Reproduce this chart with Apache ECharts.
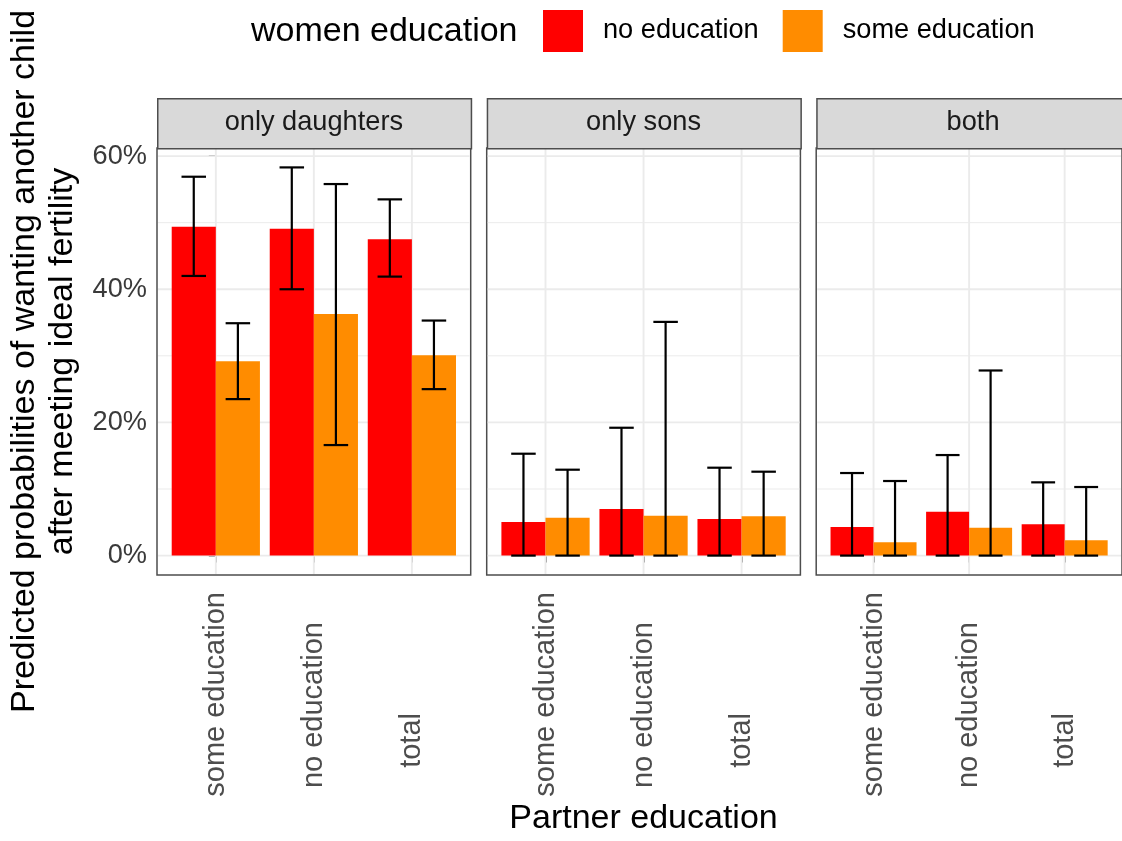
<!DOCTYPE html>
<html>
<head>
<meta charset="utf-8">
<script src="https://cdn.jsdelivr.net/npm/echarts@6/dist/echarts.min.js"></script>
<style>
  html, body { margin: 0; padding: 0; background: #ffffff; }
  #chart { width: 1122px; height: 841px; }
</style>
</head>
<body>
<div id="chart"></div>
<script>
// Partner education categories on each panel's x axis
const partnerEducation = ['some education', 'no education', 'total'];
// Facets: sex composition of existing children
const facets = ['only daughters', 'only sons', 'both'];
// Women education groups (legend)
const womenEducation = ['no education', 'some education'];

// Predicted probabilities (%) — one row per facet, one value per partner education category
const noEduMean  = [[49.4, 49.1, 47.5], [5.05, 7.0, 5.5], [4.3, 6.6, 4.7]];
const noEduLow   = [[42.0, 40.0, 41.9], [0, 0, 0], [0, 0, 0]];
const noEduHigh  = [[56.9, 58.3, 53.5], [15.3, 19.2, 13.2], [12.4, 15.1, 11.0]];
const someEduMean = [[29.2, 36.3, 30.1], [5.7, 6.0, 5.9], [2.0, 4.2, 2.3]];
const someEduLow  = [[23.5, 16.6, 25.0], [0, 0, 0], [0, 0, 0]];
const someEduHigh = [[34.9, 55.8, 35.3], [12.9, 35.1, 12.6], [11.2, 27.8, 10.3]];

// Axis breaks
const yTicks = [0, 20, 40, 60];
const yMinorTicks = [10, 30, 50];
const xTicks = [0, 1, 2];

const FONT = '"Liberation Sans", Arial, Helvetica, sans-serif';
const colors = { 'no education': '#ff0000', 'some education': '#ff8c00' };
const BORDER = '#4d4d4d';

// Panel layout
const panelLeft = [157, 486.7, 816.2];
const panelWidth = 313.7;
const panelTop = 148;
const panelBottom = 575;
const stripTop = 98;

// Continuous scale with 5% expansion on both sides of the data range
const allHigh = [].concat(...noEduHigh, ...someEduHigh);
const dataMax = Math.max(...allHigh);
const yMin = -0.05 * dataMax;
const yMax = dataMax * 1.05;
// Discrete scale with 0.6 expansion on both sides
const xMin = -0.6, xMax = partnerEducation.length - 1 + 0.6;

const dodge = 0.225;   // half of the 0.9 dodge width
const barHalf = 0.225; // bars 0.45 wide
const capHalf = 0.125; // error bar width 0.25

function barItem(offset) {
  return function (params, api) {
    const x = api.value(0), v = api.value(1);
    const p0 = api.coord([x + offset - barHalf, v]);
    const p1 = api.coord([x + offset + barHalf, 0]);
    return {
      type: 'rect',
      shape: { x: p0[0], y: p0[1], width: p1[0] - p0[0], height: p1[1] - p0[1] },
      style: { fill: api.visual('color') }
    };
  };
}

function errorItem(offset) {
  return function (params, api) {
    const x = api.value(0) + offset;
    const lo = api.coord([x, api.value(1)]);
    const hi = api.coord([x, api.value(2)]);
    const capL = api.coord([x - capHalf, 0])[0];
    const capR = api.coord([x + capHalf, 0])[0];
    const st = { stroke: '#000000', lineWidth: 2.2 };
    return {
      type: 'group',
      children: [
        { type: 'line', shape: { x1: lo[0], y1: lo[1], x2: hi[0], y2: hi[1] }, style: st },
        { type: 'line', shape: { x1: capL, y1: lo[1], x2: capR, y2: lo[1] }, style: st },
        { type: 'line', shape: { x1: capL, y1: hi[1], x2: capR, y2: hi[1] }, style: st }
      ]
    };
  };
}

function gridLineItem(params, api) {
  const vertical = api.value(0), pos = api.value(1), major = api.value(2);
  const cs = params.coordSys;
  const st = { stroke: '#ebebeb', lineWidth: major ? 1.9 : 1 };
  if (vertical) {
    const x = api.coord([pos, 0])[0];
    return { type: 'line', shape: { x1: x, y1: cs.y + 1, x2: x, y2: cs.y + cs.height - 1 }, style: st };
  }
  const y = api.coord([0, pos])[1];
  return { type: 'line', shape: { x1: cs.x + 1, y1: y, x2: cs.x + cs.width - 1, y2: y }, style: st };
}

const gridLineData = []
  .concat(yTicks.map(v => [0, v, 1]))
  .concat(yMinorTicks.map(v => [0, v, 0]))
  .concat(xTicks.map(v => [1, v, 1]));

const labelPad = [0, 30, 121]; // distance of each rotated label from the axis
const rich = {};
partnerEducation.forEach((c, i) => {
  rich['p' + i] = { fontSize: 29, color: '#4d4d4d', fontFamily: FONT, padding: [0, labelPad[i], 0, 0] };
});

const grids = [], xAxes = [], yAxes = [], series = [], graphics = [];

facets.forEach((facet, f) => {
  grids.push({
    left: panelLeft[f], top: panelTop, width: panelWidth, height: panelBottom - panelTop,
    show: true, borderColor: BORDER, borderWidth: 1.5, backgroundColor: 'transparent',
    containLabel: false
  });
  xAxes.push({
    type: 'value', gridIndex: f, min: xMin, max: xMax,
    axisLine: { show: false },
    splitLine: { show: false },
    axisTick: { show: true, customValues: xTicks, length: 7, lineStyle: { color: BORDER, width: 1.5 } },
    axisLabel: {
      show: true, customValues: xTicks, rotate: 90, margin: 17,
      formatter: v => '{p' + v + '|' + partnerEducation[v] + '}',
      rich: rich
    }
  });
  yAxes.push({
    type: 'value', gridIndex: f, min: yMin, max: yMax,
    axisLine: { show: false },
    splitLine: { show: false },
    axisTick: { show: f === 0, customValues: yTicks, length: 7, lineStyle: { color: BORDER, width: 1.5 } },
    axisLabel: {
      show: f === 0, customValues: yTicks, margin: 10,
      formatter: v => v + '%', fontSize: 27.2, color: '#3a3a3a', fontFamily: FONT
    }
  });

  series.push({
    type: 'custom', name: 'gridlines', xAxisIndex: f, yAxisIndex: f, z: 1, silent: true,
    renderItem: gridLineItem, data: gridLineData
  });
  series.push({
    type: 'custom', name: womenEducation[0], xAxisIndex: f, yAxisIndex: f, z: 2,
    itemStyle: { color: colors[womenEducation[0]] },
    renderItem: barItem(-dodge),
    data: noEduMean[f].map((v, i) => [i, v])
  });
  series.push({
    type: 'custom', name: womenEducation[1], xAxisIndex: f, yAxisIndex: f, z: 2,
    itemStyle: { color: colors[womenEducation[1]] },
    renderItem: barItem(dodge),
    data: someEduMean[f].map((v, i) => [i, v])
  });
  series.push({
    type: 'custom', name: 'interval', xAxisIndex: f, yAxisIndex: f, z: 3,
    renderItem: errorItem(-dodge),
    data: noEduLow[f].map((v, i) => [i, v, noEduHigh[f][i]])
  });
  series.push({
    type: 'custom', name: 'interval', xAxisIndex: f, yAxisIndex: f, z: 3,
    renderItem: errorItem(dodge),
    data: someEduLow[f].map((v, i) => [i, v, someEduHigh[f][i]])
  });

  // Facet strip
  graphics.push({
    type: 'rect', left: panelLeft[f], top: stripTop, z: 5,
    shape: { x: 0, y: 0, width: panelWidth, height: panelTop - stripTop },
    style: { fill: '#d9d9d9', stroke: BORDER, lineWidth: 1.5 }
  });
  graphics.push({
    type: 'text', x: panelLeft[f] + panelWidth / 2, y: (stripTop + panelTop) / 2, z: 6,
    style: { text: facet, fontSize: 27.2, fill: '#1a1a1a', fontFamily: FONT, align: 'center', verticalAlign: 'middle' }
  });
});

// Axis titles and legend title
graphics.push({
  type: 'text', x: 43.5, y: (panelTop + panelBottom) / 2, rotation: Math.PI / 2, z: 6,
  style: {
    text: 'Predicted probabilities of wanting another child\nafter meeting ideal fertility',
    fontSize: 34, lineHeight: 38, fill: '#000000', fontFamily: FONT, align: 'center', verticalAlign: 'middle'
  }
});
graphics.push({
  type: 'text', x: 643.5, y: 819, z: 6,
  style: { text: 'Partner education', fontSize: 34, fill: '#000000', fontFamily: FONT, align: 'center', verticalAlign: 'middle' }
});
graphics.push({
  type: 'text', x: 251, y: 32, z: 6,
  style: { text: 'women education', fontSize: 34, fill: '#000000', fontFamily: FONT, align: 'left', verticalAlign: 'middle' }
});

const chart = echarts.init(document.getElementById('chart'), null, { renderer: 'canvas' });
chart.setOption({
  animation: false,
  backgroundColor: '#ffffff',
  legend: {
    left: 543, top: 10, padding: 0, itemWidth: 40, itemHeight: 42, itemGap: 24, icon: 'rect',
    selectedMode: false,
    data: womenEducation.map(n => ({ name: n, itemStyle: { color: colors[n] } })),
    formatter: n => '{t|' + n + '}',
    textStyle: { rich: { t: { fontSize: 27.2, color: '#000000', fontFamily: FONT, padding: [0, 0, 0, 15] } } }
  },
  grid: grids,
  xAxis: xAxes,
  yAxis: yAxes,
  series: series,
  graphic: graphics
});
</script>
</body>
</html>
